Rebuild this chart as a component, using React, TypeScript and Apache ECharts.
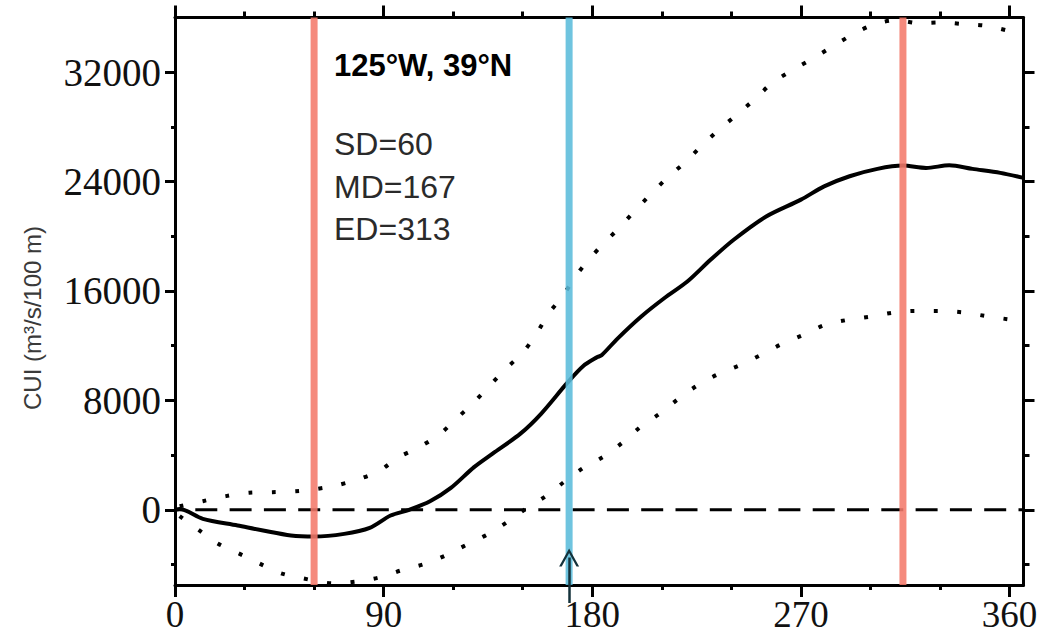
import React, { useEffect, useRef } from "react";
import * as echarts from "echarts";

// ---- data ----
const xMajorTicks = [0, 90, 180, 270, 360];
const xMinorTicks = [30, 60, 120, 150, 210, 240, 300, 330];
const yMajorTicks = [0, 8000, 16000, 24000, 32000];
const yMinorTicks = [-4000, 4000, 12000, 20000, 28000];

const mainDays = [0, 2, 12, 27, 38, 50, 60, 73, 84, 93, 101, 110, 119, 129, 137, 149, 158, 169, 176, 182, 184, 191, 201, 211, 221, 231, 241, 255, 270, 280, 291, 303, 314, 324, 334, 344, 356, 366];
const mainCUI = [0, 60, -660, -1150, -1520, -1880, -1960, -1760, -1320, -420, 0, 620, 1600, 3120, 4110, 5570, 7040, 9240, 10500, 11150, 11300, 12540, 14120, 15470, 16690, 18280, 19750, 21450, 22680, 23650, 24390, 24930, 25170, 25000, 25190, 24930, 24640, 24270];

const upperDays = [2, 12, 22, 32, 42, 52, 60, 69, 78.5, 88, 96, 105, 114, 121, 128.4, 135.5, 142.5, 149.7, 155.9, 161, 167.3, 172.9, 179, 185, 191.5, 198, 205, 212, 220, 227, 234.4, 242.3, 250, 257.4, 266, 274.6, 283.3, 292, 301, 311, 321, 330.6, 340.5, 350, 360, 366];
const upperCUI = [260, 630, 1000, 1250, 1290, 1360, 1500, 1760, 2200, 2830, 3800, 4550, 5500, 6600, 7770, 9040, 10290, 11440, 12860, 14320, 15640, 17110, 18400, 19500, 20600, 21800, 23050, 24220, 25410, 26590, 27760, 28890, 30010, 31190, 32120, 32950, 33850, 34730, 35460, 35800, 35590, 35640, 35510, 35390, 35000, 34700];

const lowerDays = [2, 10, 18, 27, 36, 45.3, 55, 68.7, 78.8, 88.4, 98.1, 107.7, 117.2, 126.2, 135.3, 143.8, 152, 160.4, 168.3, 176.3, 185, 193.3, 201, 209.2, 217.3, 225.5, 234.3, 243.8, 252.9, 261.7, 270.9, 280.2, 289.8, 299.8, 309.9, 319.7, 329.7, 339.8, 349.7, 359.5, 366];
const lowerCUI = [-470, -1445, -2420, -3150, -3890, -4620, -5010, -5380, -5230, -4940, -4400, -3960, -3300, -2520, -1750, -835, 147, 1050, 2100, 3080, 3910, 4950, 6090, 7040, 8140, 9110, 9920, 10580, 11340, 12120, 12780, 13510, 13880, 14120, 14420, 14540, 14540, 14440, 14170, 13930, 13800];

const SD_LINE_DAY = 60;
const MD_LINE_DAY = 170;
const ED_LINE_DAY = 314;
const X_MIN = 0;
const X_MAX = 366;
const Y_MIN = -5500;
const Y_MAX = 36000;
const ARROW_TOP = -3490;

const titleText = "125°W, 39°N";
const infoLines = ["SD=60", "MD=167", "ED=313"];
const yAxisName = "CUI (m³/s/100 m)";

export default function App() {
  const ref = useRef<HTMLDivElement>(null);

  useEffect(() => {
    const chart = echarts.init(ref.current as HTMLDivElement, null, { renderer: "svg" });
    const zip = (xs: number[], ys: number[]) => xs.map((x, i) => [x, ys[i]]);
    const black = "#000";
    const serif = "'Liberation Serif', 'Times New Roman', serif";
    const sans = "'Liberation Sans', Arial, Helvetica, sans-serif";
    const xBase: any = { type: "value", min: X_MIN, max: X_MAX, splitLine: { show: false } };
    const yBase: any = { type: "value", min: Y_MIN, max: Y_MAX, splitLine: { show: false } };
    const noLine = { show: false, onZero: false };
    const solidLine = { show: true, onZero: false, lineStyle: { color: black, width: 3 } };
    const noLabel = { show: false };
    const tick = (vals: number[], len: number, color = black, width = 3) => ({
      show: true,
      customValues: vals,
      length: len,
      lineStyle: { color, width },
    });
    const fmt = (v: number) => String(v);
    const vline = (day: number, color: string) => ({
      type: "line",
      data: [
        [day, Y_MIN],
        [day, Y_MAX],
      ],
      showSymbol: false,
      silent: true,
      z: 3,
      lineStyle: { color, width: 7, opacity: 0.88, cap: "butt" },
    });
    const chevron = "path://M0,18 L10,0 L20,18 L17.4,18 L10,4.6 L2.6,18 Z";
    const labelStyle = {
      show: true,
      formatter: fmt,
      fontFamily: serif,
      color: "#111",
    };

    const option: any = {
      animation: false,
      grid: { left: 175, right: 19.5, top: 17.5, bottom: 51, containLabel: false },
      xAxis: [
        {
          ...xBase,
          position: "bottom",
          axisLine: solidLine,
          axisTick: tick(xMajorTicks, 12),
          axisLabel: { ...labelStyle, fontSize: 37, lineHeight: 34, customValues: xMajorTicks, margin: 12 },
        },
        { ...xBase, position: "bottom", axisLine: noLine, axisTick: tick(xMinorTicks, 5), axisLabel: noLabel },
        { ...xBase, position: "bottom", axisLine: noLine, axisTick: tick([MD_LINE_DAY], 18, "#14323b", 2.5), axisLabel: noLabel },
        { ...xBase, position: "top", axisLine: solidLine, axisTick: tick(xMajorTicks, 12), axisLabel: noLabel },
        { ...xBase, position: "top", axisLine: noLine, axisTick: tick(xMinorTicks, 6), axisLabel: noLabel },
      ],
      yAxis: [
        {
          ...yBase,
          position: "left",
          axisLine: solidLine,
          axisTick: tick(yMajorTicks, 10),
          axisLabel: { ...labelStyle, fontSize: 39, lineHeight: 39, customValues: yMajorTicks, margin: 14 },
        },
        { ...yBase, position: "left", axisLine: noLine, axisTick: tick(yMinorTicks, 4), axisLabel: noLabel },
        { ...yBase, position: "right", axisLine: solidLine, axisTick: tick(yMajorTicks, 11), axisLabel: noLabel },
        { ...yBase, position: "right", axisLine: noLine, axisTick: tick(yMinorTicks, 6), axisLabel: noLabel },
      ],
      series: [
        {
          type: "line",
          name: "zero",
          data: [
            [X_MIN, 0],
            [X_MAX, 0],
          ],
          showSymbol: false,
          silent: true,
          lineStyle: { color: black, width: 3, type: [22, 12.3], dashOffset: 14.3 },
          markLine: {
            silent: true,
            symbol: [chevron, "none"],
            symbolSize: [20, 18],
            label: { show: false },
            lineStyle: { color: "#14323b", width: 2.5, type: "solid" },
            z: 6,
            data: [[{ coord: [MD_LINE_DAY, ARROW_TOP] }, { coord: [MD_LINE_DAY, Y_MIN] }]],
          },
        },
        {
          type: "line",
          name: "upper",
          data: zip(upperDays, upperCUI),
          showSymbol: false,
          silent: true,
          smooth: 0.3,
          lineStyle: { color: black, width: 4, type: [4, 19.4], cap: "butt" },
        },
        {
          type: "line",
          name: "lower",
          data: zip(lowerDays, lowerCUI),
          showSymbol: false,
          silent: true,
          smooth: 0.3,
          lineStyle: { color: black, width: 4, type: [4, 19.4], cap: "butt" },
        },
        {
          type: "line",
          name: "CUI",
          data: zip(mainDays, mainCUI),
          showSymbol: false,
          silent: true,
          smooth: 0.3,
          lineStyle: { color: black, width: 4 },
        },
        vline(SD_LINE_DAY, "#f47a6b"),
        vline(MD_LINE_DAY, "#5bbcdb"),
        vline(ED_LINE_DAY, "#f47a6b"),
      ],
      graphic: [
        {
          type: "text",
          x: 32,
          y: 318,
          rotation: Math.PI / 2,
          silent: true,
          style: {
            text: yAxisName,
            fontFamily: sans,
            fontSize: 24,
            fill: "#3a3a3a",
            align: "center",
            verticalAlign: "middle",
          },
        },
        {
          type: "text",
          x: 334,
          y: 65,
          silent: true,
          style: {
            text: titleText,
            fontFamily: sans,
            fontWeight: "bold",
            fontSize: 31,
            fill: "#000",
            align: "left",
            verticalAlign: "middle",
          },
        },
        ...infoLines.map((t, i) => ({
          type: "text",
          x: 334,
          y: 144 + i * 42.5,
          silent: true,
          style: {
            text: t,
            fontFamily: sans,
            fontSize: 32,
            fill: "#2a2a2a",
            align: "left",
            verticalAlign: "middle",
          },
        })),
      ],
    };
    chart.setOption(option);
    return () => chart.dispose();
  }, []);

  return (
    <div
      ref={ref}
      style={{ position: "fixed", left: 0, top: 0, width: 1043, height: 636, background: "#fff" }}
    />
  );
}
